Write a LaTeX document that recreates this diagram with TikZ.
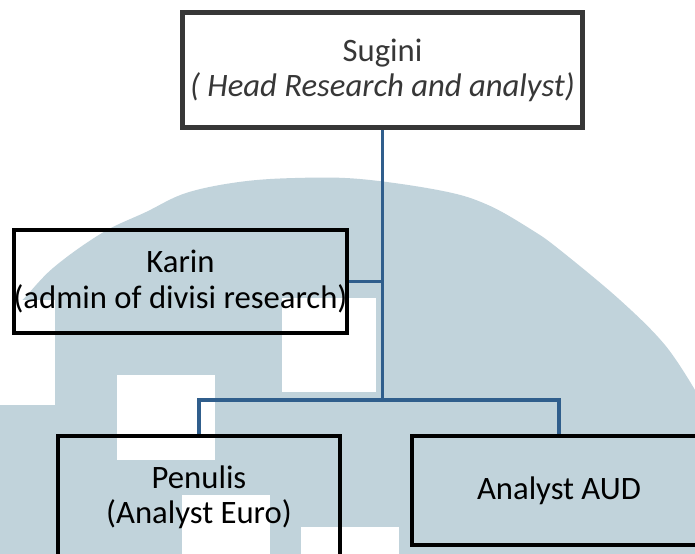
\documentclass[tikz,border=0pt]{standalone}
\usepackage{fontspec}
\setmainfont{Carlito}
\definecolor{wmblue}{RGB}{193,211,219}
\definecolor{linkblue}{RGB}{48,94,140}
\definecolor{boxgray}{RGB}{55,55,55}
\begin{document}
\begin{tikzpicture}[
   person/.style={draw=black,line width=2.3pt,align=center,inner sep=0pt,
                  font=\fontsize{18.6}{20}\selectfont},
   link/.style={draw=linkblue,line width=2.2pt}]
   \useasboundingbox (0,0) rectangle (13.9,-11.08);
   \begin{scope}
   \clip (0,0) rectangle (13.9,-11.08);
   % watermark behind the chart
   \fill[wmblue] plot[smooth,tension=0.6] coordinates {(0,-6.2) (0.36,-6.08) (1.06,-5.36)
        (2.04,-4.66) (2.92,-4.24) (3.72,-3.86) (4.78,-3.64) (5.9,-3.56) (7.2,-3.58)
        (8.86,-3.82) (9.76,-4.1) (10.64,-4.6) (11.2,-5.0) (12.4,-6.0) (13.3,-6.9)
        (13.9,-7.8)} -- (13.9,-11.08) -- (0,-11.08) -- cycle;
   \fill[white] (5.64,-5.96) rectangle (7.52,-7.84);
   \fill[white] (0,-6.0) rectangle (1.1,-8.1);
   \fill[white] (2.34,-7.5) rectangle (4.3,-9.2);
   \fill[white] (3.64,-9.9) rectangle (5.4,-11.08);
   \fill[white] (6.02,-10.54) rectangle (7.98,-11.08);
   \end{scope}
   % people
   \node[person,draw=boxgray,fill=white,text=boxgray,minimum width=8.0cm,minimum height=2.3cm]
        (sugini) at (7.65,-1.40) {Sugini\\\textit{( Head Research and analyst)}};
   \node[person,minimum width=6.66cm,minimum height=2.06cm]
        (karin) at (3.61,-5.63) {Karin\\(admin of divisi research)};
   \node[person,minimum width=5.64cm,minimum height=2.44cm]
        (penulis) at (3.98,-9.94) {Penulis\\(Analyst Euro)};
   \node[person,minimum width=5.88cm,minimum height=2.18cm]
        (aud) at (11.18,-9.81) {Analyst AUD};
   % links
   \coordinate (bus) at (7.65,-8.0);
   \draw[link] (sugini.south) -- (bus);
   \draw[link] (karin.east) -- (karin.east -| bus);
   \draw[link] (penulis.north) |- (bus) -| (aud.north);
\end{tikzpicture}
\end{document}
